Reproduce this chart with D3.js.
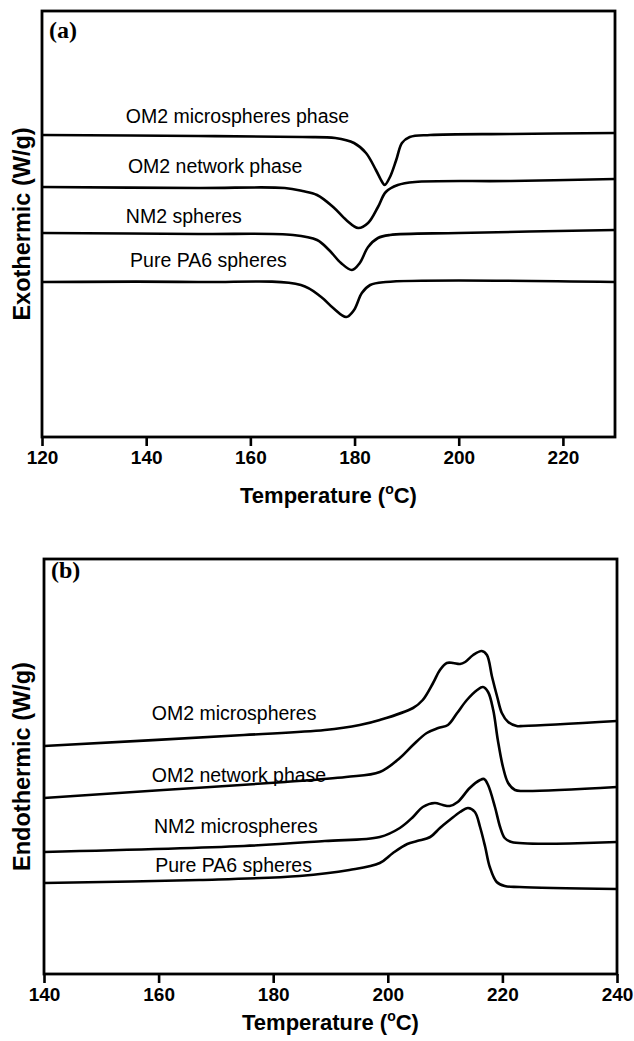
<!DOCTYPE html>
<html>
<head>
<meta charset="utf-8">
<script src="https://cdn.jsdelivr.net/npm/d3@7"></script>
<style>
  body { margin: 0; background: #fff; }
  svg { display: block; }
</style>
</head>
<body>
<svg id="chart" width="634" height="1041"></svg>
<script>
// ---- data (a) crystallisation, temperature in C vs heat flow (offset, arb.) ----
var crysTicks = [120, 140, 160, 180, 200, 220];
var crysOM2Micro = [[120,30.2],[150,30.1],[170,30.0],[176.3,29.9],[179.9,29.4],[182.2,28.4],[184.1,26.7],[185.3,25.5],[185.8,25.2],[186.8,26.0],[188.0,27.7],[189.1,29.4],[190.6,30.0],[194.5,30.2],[210,30.3],[230,30.4]];
var crysOM2Net = [[120,25.0],[150,24.9],[166.6,24.9],[170,24.6],[172.8,24.2],[175.9,23.0],[178.4,21.7],[180.7,20.9],[182.6,21.4],[184.5,23.0],[186.0,24.5],[188.3,25.2],[191.6,25.5],[210,25.6],[230,25.8]];
var crysNM2 = [[120,20.4],[150,20.3],[168.2,20.2],[172.8,19.7],[175.1,18.7],[177.4,17.4],[179.5,16.7],[181.0,17.4],[182.6,19.0],[184.5,19.9],[186.8,20.2],[200,20.4],[230,20.7]];
var crysPA6 = [[120,15.5],[150,15.5],[169.7,15.2],[173.6,14.0],[175.9,12.9],[178.4,12.0],[179.9,12.7],[181.4,14.4],[183.0,15.2],[186.0,15.5],[230,15.5]];
var crysNames = ["OM2 microspheres phase", "OM2 network phase", "NM2 spheres", "Pure PA6 spheres"];

// ---- data (b) melting ----
var meltTicks = [140, 160, 180, 200, 220, 240];
var meltOM2Micro = [[140,22.8],[174.9,23.9],[189.0,24.4],[195.1,24.9],[198.6,25.4],[204.4,26.6],[206.1,27.4],[207.9,29.1],[209.1,30.4],[210.3,31.1],[211.4,31.1],[212.6,31.0],[213.5,31.2],[214.9,31.9],[216.4,32.3],[217.3,31.9],[218.2,29.7],[219.1,27.7],[219.9,26.1],[221.0,25.2],[222.5,24.8],[223.6,24.8],[240,25.3]];
var meltOM2Net = [[140,17.6],[160.8,18.4],[182.1,19.2],[192.7,19.7],[198.6,20.2],[202.1,21.6],[204.4,22.9],[206.8,24.1],[208.8,24.6],[210.5,24.9],[212.1,26.1],[213.8,27.4],[215.6,28.4],[216.6,28.7],[217.5,28.2],[218.4,26.4],[219.2,23.4],[220.1,20.7],[221.0,19.1],[222.2,18.4],[223.6,18.3],[240,18.7]];
var meltNM2 = [[140,12.2],[174.9,12.8],[189.0,13.3],[198.6,13.7],[202.1,14.6],[204.4,15.7],[206.1,16.7],[208.2,17.1],[209.6,16.9],[210.8,16.8],[212.2,17.2],[214.3,18.6],[216.1,19.4],[216.8,19.5],[217.5,18.9],[218.7,16.7],[219.6,14.7],[220.4,13.6],[221.6,13.2],[240,13.2]];
var meltPA6 = [[140,9.1],[167.1,9.4],[184.6,9.8],[193.3,10.4],[198.6,11.1],[200.9,12.1],[203.4,13.0],[205.1,13.3],[207.4,13.7],[209.1,14.6],[210.8,15.4],[212.6,16.2],[214.0,16.6],[215.2,16.2],[216.1,14.7],[217.0,12.7],[217.8,10.7],[219.0,9.2],[220.4,8.8],[223.0,8.7],[240,8.5]];
var meltNames = ["OM2 microspheres", "OM2 network phase", "NM2 microspheres", "Pure PA6 spheres"];

var svg = d3.select("#chart");

function drawPanel(p) {
	var g = svg.append("g").attr("transform", "translate(" + p.left + "," + p.top + ")");
	var w = p.width, h = p.height;

	var x = d3.scaleLinear().domain(p.xDomain).range([0, w]);
	var y = d3.scaleLinear().domain(p.yDomain).range([h, 0]);

	var line = d3.line()
		.x(function(d) { return x(d[0]); })
		.y(function(d) { return y(d[1]); })
		.curve(d3.curveCatmullRom.alpha(0.5));

	p.series.forEach(function(s) {
		g.append("path")
			.datum(s)
			.attr("d", line)
			.attr("fill", "none")
			.attr("stroke", "#000")
			.attr("stroke-width", 2.6)
			.attr("stroke-linejoin", "round");
	});

	p.names.forEach(function(name, i) {
		g.append("text")
			.attr("x", x(p.labelAt[i][0]))
			.attr("y", y(p.labelAt[i][1]))
			.attr("font-family", "Liberation Sans, Arial, sans-serif")
			.attr("font-size", 19.5)
			.attr("fill", "#000")
			.text(name);
	});

	// frame
	g.append("rect")
		.attr("width", w).attr("height", h)
		.attr("fill", "none")
		.attr("stroke", "#000")
		.attr("stroke-width", 2.8);

	var axis = g.append("g")
		.attr("transform", "translate(0," + h + ")")
		.call(d3.axisBottom(x).tickValues(p.ticks).tickSize(9).tickPadding(5).tickFormat(d3.format("d")));
	axis.select(".domain").remove();
	axis.selectAll(".tick line").attr("stroke", "#000").attr("stroke-width", 2.6);
	axis.selectAll(".tick text")
		.attr("font-family", "Liberation Sans, Arial, sans-serif")
		.attr("font-weight", "bold")
		.attr("font-size", 19)
		.attr("fill", "#000");

	var xt = g.append("text")
		.attr("x", w / 2)
		.attr("y", h + p.xTitleGap)
		.attr("text-anchor", "middle")
		.attr("font-family", "Liberation Sans, Arial, sans-serif")
		.attr("font-weight", "bold")
		.attr("font-size", 22);
	xt.append("tspan").text("Temperature (");
	xt.append("tspan").attr("font-size", 14).attr("dy", -9).text("o");
	xt.append("tspan").attr("dy", 9).text("C)");

	g.append("text")
		.attr("transform", "translate(" + (-p.left + 30) + "," + (h / 2) + ") rotate(-90)")
		.attr("text-anchor", "middle")
		.attr("font-family", "Liberation Sans, Arial, sans-serif")
		.attr("font-weight", "bold")
		.attr("font-size", 23.5)
		.text(p.yTitle);

	g.append("text")
		.attr("x", 7)
		.attr("y", p.tagY)
		.attr("font-family", "Liberation Serif, Times New Roman, serif")
		.attr("font-weight", "bold")
		.attr("font-size", 24)
		.text(p.tag);
}

drawPanel({
	left: 42, top: 11, width: 573, height: 426,
	xDomain: [120, 230], yDomain: [0, 42.6],
	ticks: crysTicks,
	series: [crysOM2Micro, crysOM2Net, crysNM2, crysPA6],
	names: crysNames,
	labelAt: [[136.1, 31.4], [136.5, 26.4], [136.1, 21.4], [136.9, 17.0]],
	yTitle: "Exothermic (W/g)",
	xTitleGap: 66,
	tag: "(a)", tagY: 27
});

drawPanel({
	left: 44, top: 559, width: 573, height: 415,
	xDomain: [140, 240], yDomain: [0, 41.5],
	ticks: meltTicks,
	series: [meltOM2Micro, meltOM2Net, meltNM2, meltPA6],
	names: meltNames,
	labelAt: [[158.8, 25.4], [158.8, 19.2], [159.2, 14.1], [159.4, 10.2]],
	yTitle: "Endothermic (W/g)",
	xTitleGap: 56,
	tag: "(b)", tagY: 19
});
</script>
</body>
</html>
